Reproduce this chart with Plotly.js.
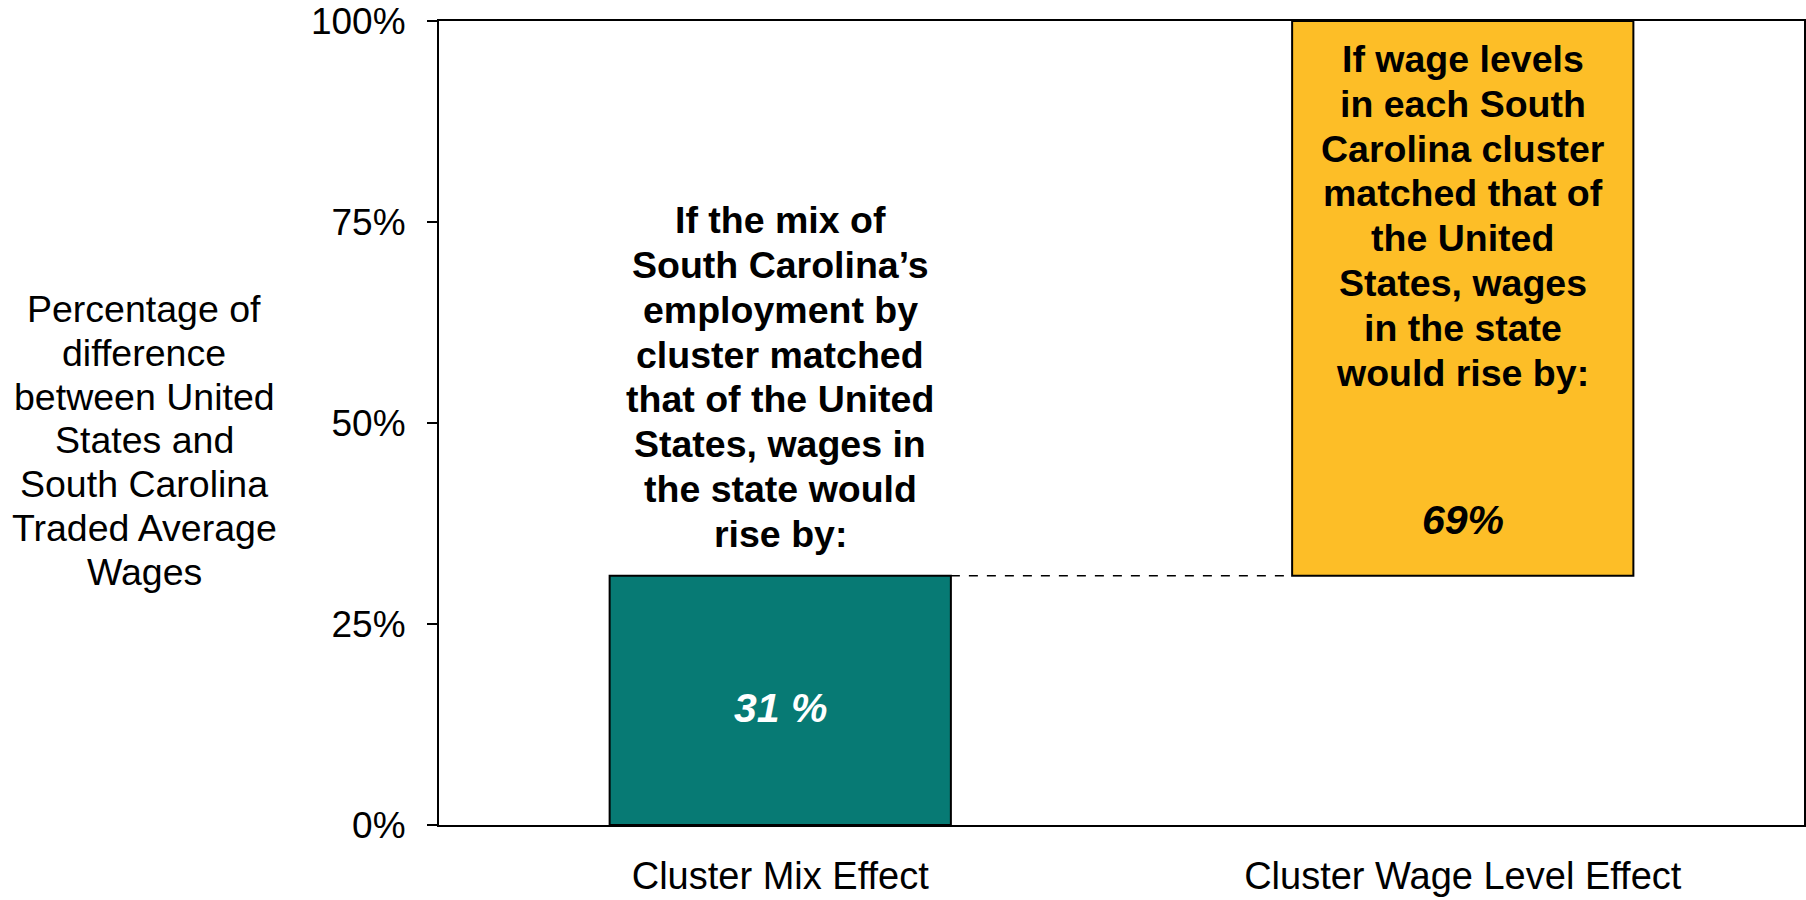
<!DOCTYPE html>
<html>
<head>
<meta charset="utf-8">
<script src="https://cdn.plot.ly/plotly-3.0.1.min.js"></script>
<style>
html,body{margin:0;padding:0;background:#fff;}
#chart{width:1806px;height:900px;}
</style>
</head>
<body>
<div id="chart"></div>
<script>
// ---- data ----
const categories = ["Cluster Mix Effect", "Cluster Wage Level Effect"];
const values = [31, 69];              // percent of difference
const valueLabels = ["31 %", "69%"];
const barColors = ["#077A74", "#FDBE27"];
const valueLabelColors = ["#FFFFFF", "#000000"];
const yTickVals = [0, 25, 50, 75, 100];
const yTickText = ["0%", "25%", "50%", "75%", "100%"];
const yTitleLines = ["Percentage of", "difference", "between United", "States and",
                     "South Carolina", "Traded Average", "Wages"];
const noteMixLines = ["If the mix of", "South Carolina’s", "employment by", "cluster matched",
                      "that of the United", "States, wages in", "the state would", "rise by:"];
const noteWageLines = ["If wage levels", "in each South", "Carolina cluster", "matched that of",
                       "the United", "States, wages", "in the state", "would rise by:"];

// waterfall bases
const bases = [];
let run = 0;
values.forEach(v => { bases.push(run); run += v; });

const barWidth = 0.5;
const FONT = "Liberation Sans, Arial, Helvetica, sans-serif";
const LINE = 44.8;   // line spacing in px for multi-line texts

const trace = {
  type: "bar",
  x: categories,
  y: values,
  base: bases,
  width: barWidth,
  marker: { color: barColors, line: { color: "#000", width: 2 } },
  hoverinfo: "skip",
  showlegend: false
};

const annotations = [];

// y-axis title, horizontal, line by line
yTitleLines.forEach((t, i) => {
  annotations.push({
    xref: "paper", yref: "paper", x: -0.216, y: 1,
    yshift: -(288 + i * 43.8),
    text: t, showarrow: false, xanchor: "center", yanchor: "middle",
    font: { family: FONT, size: 37.5, color: "#000" }
  });
});

// note above first bar (bottom line sits just above the bar top)
noteMixLines.forEach((t, i) => {
  annotations.push({
    xref: "x", yref: "y", x: categories[0], y: bases[0] + values[0],
    yshift: 42 + (noteMixLines.length - 1 - i) * LINE,
    text: "<b>" + t + "</b>", showarrow: false,
    xanchor: "center", yanchor: "middle",
    font: { family: FONT, size: 37.5, color: "#000" }
  });
});

// note inside second bar (top line just below the bar top)
noteWageLines.forEach((t, i) => {
  annotations.push({
    xref: "x", yref: "y", x: categories[1], y: bases[1] + values[1],
    yshift: -(38 + i * LINE),
    text: "<b>" + t + "</b>", showarrow: false,
    xanchor: "center", yanchor: "middle",
    font: { family: FONT, size: 37.5, color: "#000" }
  });
});

// value labels
annotations.push({
  xref: "x", yref: "y", x: categories[0], y: bases[0] + values[0] * 0.47,
  text: "<b><i>" + valueLabels[0] + "</i></b>", showarrow: false,
  xanchor: "center", yanchor: "middle",
  font: { family: FONT, size: 41, color: valueLabelColors[0] }
});
annotations.push({
  xref: "x", yref: "y", x: categories[1], y: bases[1] + values[1] * 0.1,
  text: "<b><i>" + valueLabels[1] + "</i></b>", showarrow: false,
  xanchor: "center", yanchor: "middle",
  font: { family: FONT, size: 41, color: valueLabelColors[1] }
});

const shapes = [
  {
    type: "line", xref: "x", yref: "y",
    x0: 0 + barWidth / 2, x1: 1 - barWidth / 2,
    y0: bases[0] + values[0], y1: bases[0] + values[0],
    line: { color: "#000", width: 1.5, dash: "dash" }
  }
];

const layout = {
  width: 1806, height: 900,
  margin: { l: 439, r: 2, t: 21, b: 75 },
  paper_bgcolor: "#fff", plot_bgcolor: "#fff",
  font: { family: FONT, color: "#000" },
  bargap: 0.5,
  xaxis: {
    type: "category",
    range: [-0.5, 1.5],
    showgrid: false, zeroline: false,
    showline: true, linecolor: "#000", linewidth: 2, mirror: true,
    ticks: "", ticklabelstandoff: 16,
    ticklabeloverflow: "allow",
    tickfont: { family: FONT, size: 38, color: "#000" },
    automargin: false, fixedrange: true
  },
  yaxis: {
    range: [0, 100],
    tickvals: yTickVals, ticktext: yTickText,
    showgrid: false, zeroline: false,
    showline: true, linecolor: "#000", linewidth: 2, mirror: true,
    ticks: "outside", ticklen: 10, tickwidth: 2, tickcolor: "#000",
    ticklabelstandoff: 14,
    ticklabeloverflow: "allow",
    tickfont: { family: FONT, size: 37, color: "#000" },
    automargin: false, fixedrange: true
  },
  annotations: annotations,
  shapes: shapes
};

Plotly.newPlot("chart", [trace], layout, { displayModeBar: false, staticPlot: true });
</script>
</body>
</html>
